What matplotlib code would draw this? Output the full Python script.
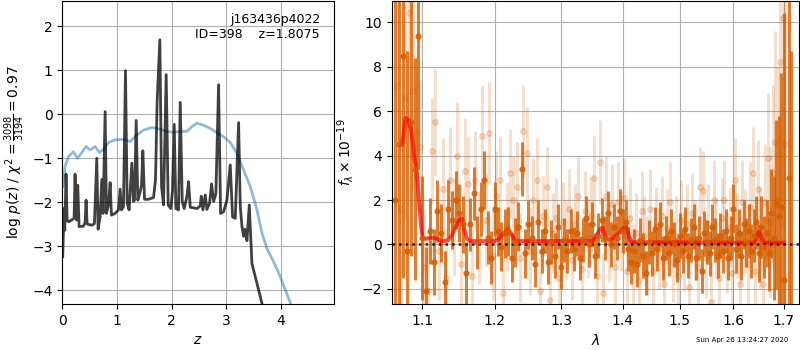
import time
import numpy as np
import matplotlib
matplotlib.use('Agg')
import matplotlib.pyplot as plt
from matplotlib.ticker import NullLocator

# --- left panel: redshift probability ---
z_pz = [0.006, 0.018, 0.031, 0.043, 0.067, 0.086, 0.110, 0.171, 0.214, 0.232,
        0.257, 0.281, 0.306, 0.385, 0.416, 0.434, 0.453, 0.538, 0.587, 0.630,
        0.654, 0.691, 0.722, 0.746, 0.783, 0.807, 0.844, 0.875, 0.899, 0.966,
        1.028, 1.058, 1.083, 1.119, 1.156, 1.187, 1.223, 1.272, 1.303, 1.321,
        1.352, 1.382, 1.425, 1.450, 1.474, 1.505, 1.578, 1.670, 1.706, 1.737,
        1.786, 1.817, 1.853, 1.902, 1.939, 1.988, 2.018, 2.049, 2.080, 2.128,
        2.159, 2.196, 2.232, 2.281, 2.312, 2.343, 2.465, 2.526, 2.544, 2.575,
        2.618, 2.648, 2.697, 2.734, 2.771, 2.813, 2.862, 2.899, 2.954, 3.015,
        3.076, 3.119, 3.168, 3.229, 3.260, 3.291, 3.321, 3.346, 3.382, 3.425,
        3.456, 3.474, 3.566, 3.688]
log_pz = [-3.23, -2.70, -2.14, -2.63, -1.36, -2.40, -2.44, -2.40, -2.36, -1.36,
          -2.40, -1.61, -2.55, -2.54, -2.46, -1.95, -2.49, -2.52, -2.48, -1.00,
          -2.61, -2.33, -1.48, -2.25, 0.06, -2.25, -2.06, -1.55, -2.29, -2.25,
          -2.17, -1.70, -2.17, -2.10, 0.99, -2.02, -2.17, -1.11, -1.98, -1.95,
          -0.14, -1.95, -1.76, -1.61, -0.83, -1.93, -1.93, -1.89, -1.49, 0.33,
          1.69, -1.64, -2.06, 0.90, -2.06, -2.14, -1.72, -0.23, -2.14, -2.17,
          0.27, -1.98, -2.14, -1.87, -1.53, -2.11, -2.14, -2.08, -1.86, -2.17,
          -1.83, -2.16, -2.02, -1.58, -1.98, -1.80, 0.67, -2.25, -2.21, -1.95,
          -1.15, -2.33, -2.36, -0.19, -2.10, -2.55, -2.77, -2.61, -2.87, -2.06,
          -2.92, -3.39, -3.84, -4.45]

z_chi2 = [0.006, 0.018, 0.049, 0.110, 0.202, 0.275, 0.355, 0.434, 0.508, 0.599,
          0.679, 0.752, 0.844, 0.966, 1.119, 1.242, 1.364, 1.486, 1.639, 1.792,
          1.914, 2.037, 2.159, 2.281, 2.373, 2.465, 2.587, 2.709, 2.832, 2.954,
          3.076, 3.199, 3.321, 3.443, 3.566, 3.657, 3.749, 3.872, 3.994, 4.086,
          4.239]
log_chi2 = [-1.64, -1.53, -1.19, -0.96, -0.85, -1.00, -0.87, -0.73, -0.81, -0.73,
            -0.87, -0.80, -0.64, -0.58, -0.57, -0.62, -0.47, -0.36, -0.30, -0.34,
            -0.39, -0.41, -0.39, -0.39, -0.28, -0.20, -0.25, -0.32, -0.42, -0.51,
            -0.64, -0.89, -1.27, -1.64, -2.17, -2.70, -3.05, -3.35, -3.69, -3.99,
            -4.48]

# --- right panel: spectrum (flux in 1e-19) ---
wave_bin = [1.065, 1.070, 1.075, 1.080, 1.085, 1.090, 1.095, 1.100, 1.105, 1.110,
            1.115, 1.120, 1.125, 1.130, 1.135, 1.140, 1.145, 1.150, 1.155, 1.160,
            1.165, 1.170, 1.175, 1.180, 1.185, 1.190, 1.195, 1.200, 1.205, 1.210,
            1.215, 1.220, 1.225, 1.230, 1.235, 1.240, 1.245, 1.250, 1.255, 1.260,
            1.265, 1.270, 1.275, 1.280, 1.285, 1.290, 1.295, 1.300, 1.305, 1.310,
            1.315, 1.320, 1.325, 1.330, 1.335, 1.340, 1.345, 1.350, 1.355, 1.360,
            1.365, 1.370, 1.375, 1.380, 1.385, 1.390, 1.395, 1.400, 1.405, 1.410,
            1.415, 1.420, 1.425, 1.430, 1.435, 1.440, 1.445, 1.450, 1.455, 1.460,
            1.465, 1.470, 1.475, 1.480, 1.485, 1.490, 1.495, 1.500, 1.505, 1.510,
            1.515, 1.520, 1.525, 1.530, 1.535, 1.540, 1.545, 1.550, 1.555, 1.560,
            1.565, 1.570, 1.575, 1.580, 1.585, 1.590, 1.595, 1.600, 1.605, 1.610,
            1.615, 1.620, 1.625, 1.630, 1.635, 1.640, 1.645, 1.650, 1.655, 1.660,
            1.665, 1.670, 1.675, 1.680, 1.685, 1.690, 1.695, 1.700, 1.710, 1.715]
flux_bin = [2.0, 4.5, 8.5, -0.3, 5.5, 3.4, 9.4, 0.3, -2.1, 0.6,
            -0.8, 1.5, 0.5, -1.7, 1.6, 1.1, 2.0, 1.4, 0.9, -1.3,
            0.9, 2.3, 0.1, 1.6, 2.9, 0.3, -0.6, 1.6, 0.6, -0.1,
            0.5, 0.6, -0.6, 0.1, 0.8, 3.4, -0.4, 0.9, 0.3, -0.9,
            1.0, -0.3, 0.6, -0.8, 0.1, -0.5, 0.8, -1.0, 0.2, -0.3,
            0.6, -0.2, 0.5, -0.6, 0.2, 1.2, 0.0, 0.9, -0.5, 0.4,
            1.1, 0.3, 1.4, 0.0, 0.8, 0.3, 1.5, 0.6, 1.0, -0.2,
            -0.8, -0.3, -0.9, 0.2, -0.5, -1.3, 0.1, -0.4, 0.7, -0.2,
            0.9, -0.6, 0.3, -0.4, 0.6, 0.0, -0.7, 0.4, -0.3, 0.7,
            -0.5, 0.2, 0.8, -0.6, 0.3, -1.2, 0.5, 0.1, -0.4, 0.8,
            0.2, -0.5, 0.4, -0.3, 0.6, -0.6, 0.3, 1.6, -0.2, 0.5,
            -0.5, 0.9, 0.1, 0.6, -0.3, 0.4, 1.0, -0.4, 0.8, -0.1,
            0.5, -0.4, 1.4, 0.3, 1.8, 1.3, 1.7, -1.6, 3.0, -5.0]
err_bin = [15.0, 9.0, 10.0, 9.0, 6.0, 5.0, 6.0, 2.8, 2.0, 1.5,
           1.5, 1.4, 1.3, 1.4, 1.3, 1.3, 1.3, 1.3, 1.3, 1.4,
           1.2, 1.2, 1.2, 1.2, 1.3, 1.2, 1.2, 1.2, 1.1, 1.1,
           1.1, 1.1, 1.1, 1.1, 1.1, 1.2, 1.1, 1.1, 1.0, 1.0,
           1.0, 1.0, 1.0, 1.0, 1.0, 1.0, 1.0, 1.0, 1.0, 1.0,
           1.0, 1.0, 1.0, 1.0, 1.0, 1.0, 1.0, 1.0, 1.0, 1.0,
           1.0, 1.0, 1.0, 1.0, 1.0, 1.0, 1.0, 1.0, 1.0, 1.0,
           1.0, 1.0, 1.0, 1.0, 1.0, 1.0, 1.0, 1.0, 1.0, 1.0,
           1.0, 1.0, 1.0, 1.0, 1.0, 1.0, 1.0, 1.0, 1.0, 1.0,
           1.0, 1.0, 1.0, 1.0, 1.0, 1.0, 1.0, 1.0, 1.0, 1.0,
           1.0, 1.0, 1.0, 1.0, 1.0, 1.0, 1.0, 1.1, 1.1, 1.1,
           1.1, 1.1, 1.1, 1.2, 1.2, 1.2, 1.2, 1.3, 1.4, 1.4,
           1.5, 1.7, 2.0, 2.8, 3.8, 4.5, 6.0, 12.0, 12.0, 13.7]

wave_beam = [1.0675, 1.0725, 1.0775, 1.0825, 1.0875, 1.0925, 1.0975, 1.1025, 1.1075, 1.1125,
             1.1175, 1.1225, 1.1275, 1.1325, 1.1375, 1.1425, 1.1475, 1.1525, 1.1575, 1.1625,
             1.1675, 1.1725, 1.1775, 1.1825, 1.1875, 1.1925, 1.1975, 1.2025, 1.2075, 1.2125,
             1.2175, 1.2225, 1.2275, 1.2325, 1.2375, 1.2425, 1.2475, 1.2525, 1.2575, 1.2625,
             1.2675, 1.2725, 1.2775, 1.2825, 1.2875, 1.2925, 1.2975, 1.3025, 1.3075, 1.3125,
             1.3175, 1.3225, 1.3275, 1.3325, 1.3375, 1.3425, 1.3475, 1.3525, 1.3575, 1.3625,
             1.3675, 1.3725, 1.3775, 1.3825, 1.3875, 1.3925, 1.3975, 1.4025, 1.4075, 1.4125,
             1.4175, 1.4225, 1.4275, 1.4325, 1.4375, 1.4425, 1.4475, 1.4525, 1.4575, 1.4625,
             1.4675, 1.4725, 1.4775, 1.4825, 1.4875, 1.4925, 1.4975, 1.5025, 1.5075, 1.5125,
             1.5175, 1.5225, 1.5275, 1.5325, 1.5375, 1.5425, 1.5475, 1.5525, 1.5575, 1.5625,
             1.5675, 1.5725, 1.5775, 1.5825, 1.5875, 1.5925, 1.5975, 1.6025, 1.6075, 1.6125,
             1.6175, 1.6225, 1.6275, 1.6325, 1.6375, 1.6425, 1.6475, 1.6525, 1.6575, 1.6625,
             1.6675, 1.6725, 1.6775, 1.6825, 1.6875, 1.6925, 1.6975, 1.7025]
flux_beam = [7.2, 1.6, 6.6, 10.4, 6.9, 5.0, 4.4, -1.0, -2.1, 4.2,
             5.5, -0.3, 2.5, -1.5, 2.9, 0.8, 4.0, -0.9, 3.3, 2.7,
             -1.4, 2.9, 0.3, 4.9, 1.1, 5.0, -0.5, 2.2, 2.9, -2.2,
             0.8, 3.2, 2.0, 2.6, -0.6, 5.1, 4.1, -0.3, 2.0, 2.9,
             -2.1, 1.3, 2.6, -2.5, 0.5, 1.2, -1.5, 1.0, 0.2, 1.6,
             -0.7, 0.9, 2.2, -1.1, 1.5, 0.3, 1.3, 3.0, -1.4, 3.7,
             -2.2, 2.2, 0.1, 1.8, -1.0, 1.9, 0.6, 2.1, -1.2, 1.2,
             -0.9, 0.5, -1.6, 1.5, 0.4, -0.5, 1.6, -1.2, 0.8, -0.2,
             1.3, -1.8, 0.7, 1.9, -0.8, 0.4, -1.4, 1.1, -0.3, 0.9,
             -1.9, 1.4, 0.2, -1.0, 2.6, 2.4, -0.6, 0.9, -2.6, 2.0,
             0.3, -1.5, 1.2, 2.0, -0.4, 0.8, -1.3, 2.9, 0.4, -1.8,
             1.9, 0.6, -0.9, 1.7, 3.2, -1.2, 2.5, 0.3, -1.8, 1.9,
             3.9, 1.0, 3.2, 4.6, 2.0, 8.2, 10.2, 4.5]
err_beam = [5.5, 4.5, 5.5, 6.5, 4.5, 3.5, 3.0, 2.6, 2.5, 2.4,
            2.4, 2.2, 2.3, 2.2, 2.4, 2.2, 2.4, 2.2, 2.4, 2.2,
            2.1, 2.2, 2.1, 2.3, 2.1, 2.3, 2.0, 2.0, 2.0, 2.0,
            2.0, 2.0, 2.0, 2.0, 2.0, 2.1, 2.1, 2.0, 1.9, 1.9,
            1.9, 1.8, 1.8, 1.8, 1.8, 1.8, 1.8, 1.8, 1.8, 1.8,
            1.8, 1.8, 1.8, 1.8, 1.8, 1.8, 1.8, 1.9, 1.8, 1.9,
            1.8, 1.8, 1.8, 1.8, 1.8, 1.8, 1.8, 1.8, 1.8, 1.8,
            1.8, 1.8, 1.8, 1.8, 1.8, 1.8, 1.8, 1.8, 1.8, 1.8,
            1.8, 1.8, 1.8, 1.8, 1.8, 1.8, 1.8, 1.8, 1.8, 1.8,
            1.8, 1.8, 1.8, 1.8, 1.8, 1.8, 1.8, 1.8, 1.8, 1.8,
            1.8, 1.8, 1.8, 1.8, 1.8, 1.8, 1.8, 1.9, 1.9, 1.9,
            1.9, 1.9, 2.0, 2.0, 2.1, 2.1, 2.2, 2.3, 2.4, 2.6,
            2.9, 3.4, 4.0, 5.0, 6.0, 7.5, 9.5, 10.5]

wave_model = [1.0735, 1.078, 1.082, 1.086, 1.090, 1.093, 1.096, 1.099, 1.1006, 1.105,
              1.110, 1.115, 1.120, 1.125, 1.130, 1.135, 1.140, 1.145, 1.150, 1.1535,
              1.157, 1.161, 1.165, 1.200, 1.206, 1.212, 1.219, 1.224, 1.229, 1.233,
              1.350, 1.357, 1.3625, 1.3668, 1.3715, 1.377, 1.385, 1.395, 1.4025, 1.4071,
              1.411, 1.416, 1.640, 1.645, 1.650, 1.655, 1.660, 1.700]
flux_model = [4.5, 5.7, 5.6, 5.0, 3.8, 3.2, 1.8, 0.6, 0.3, 0.25,
              0.3, 0.3, 0.25, 0.15, 0.15, 0.2, 0.4, 0.8, 1.1, 1.17,
              0.7, 0.25, 0.15, 0.15, 0.25, 0.45, 0.68, 0.5, 0.2, 0.15,
              0.15, 0.4, 0.7, 0.75, 0.35, 0.2, 0.3, 0.55, 0.75, 0.75,
              0.35, 0.1, 0.08, 0.3, 0.57, 0.3, 0.08, 0.08]

g141_color = (0.8352941176470589, 0.3686274509803922, 0.0)

fig = plt.figure(figsize=(8, 3.5), dpi=100)

ax = fig.add_axes([0.078, 0.131, 0.339, 0.866])
ax.plot(z_chi2, log_chi2, color='#1f77b4', alpha=0.5, linewidth=2)
ax.plot(z_pz, log_pz, color='k', alpha=0.75, linewidth=2)
ax.set_xlim(0, 4.97)
ax.set_ylim(-4.31, 2.57)
ax.set_xticks([0, 1, 2, 3, 4])
ax.set_yticks([-4, -3, -2, -1, 0, 1, 2])
ax.grid()
ax.set_xlabel(r'$z$')
ax.set_ylabel(r'log $p(z)$ / $\chi^2=\frac{3098}{3194}=0.97$')
ax.text(0.95, 0.96, 'j163436p4022\nID=398    z=1.8075', ha='right', va='top',
        transform=ax.transAxes, fontsize=9)

ax = fig.add_axes([0.4896, 0.131, 0.509, 0.866])
ax.errorbar(wave_beam, flux_beam, yerr=err_beam, color=g141_color, alpha=0.2,
            marker='o', markersize=4, linestyle='None', elinewidth=2.2)
ax.errorbar(wave_bin, flux_bin, yerr=err_bin, color=g141_color, alpha=0.8,
            marker='o', markersize=3.5, linestyle='None', elinewidth=2.2)
ax.plot(wave_model, flux_model, color='r', alpha=0.7, linewidth=2.8)
ax.axhline(0, color='k', linestyle=':', linewidth=1.8, alpha=0.8)
ax.set_xscale('log')
ax.set_xlim(1.0602, 1.7312)
ax.set_ylim(-2.69, 10.96)
ax.xaxis.set_minor_locator(NullLocator())
ax.set_xticks([1.1, 1.2, 1.3, 1.4, 1.5, 1.6, 1.7])
ax.set_xticklabels(['1.1', '1.2', '1.3', '1.4', '1.5', '1.6', '1.7'])
ax.set_yticks([-2, 0, 2, 4, 6, 8, 10])
ax.grid()
ax.set_xlabel(r'$\lambda$')
ax.set_ylabel(r'$f_\lambda \times 10^{-19}$')

fig.text(0.985, 0.02, 'Sun Apr 26 13:24:27 2020', ha='right', va='bottom', fontsize=5)

fig.savefig('out.png', dpi=100)
